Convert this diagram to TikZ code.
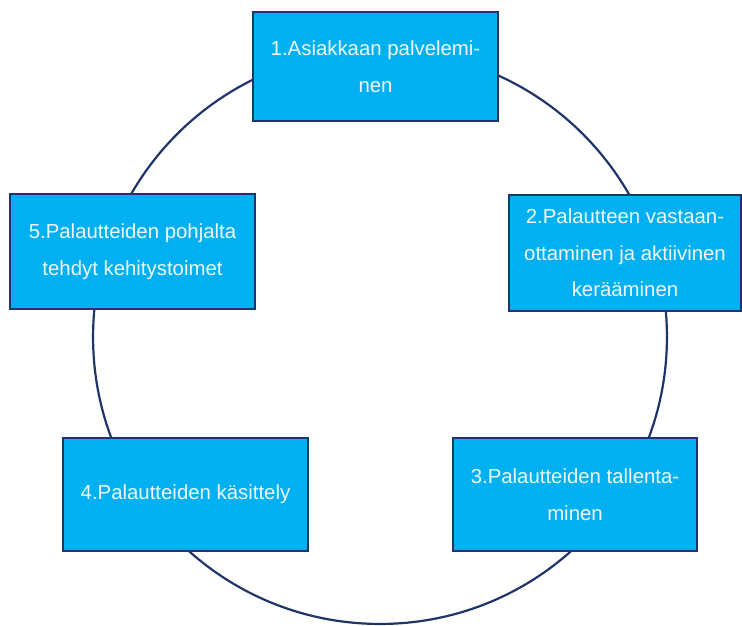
\documentclass[tikz,border=0pt]{standalone}
\usepackage{fontspec}
\setmainfont{Liberation Sans}
\usetikzlibrary{positioning}
\definecolor{kbox}{HTML}{00B0F0}
\definecolor{knavy}{HTML}{1F3468}
\definecolor{ktext}{HTML}{EEF9FF}
\tikzset{
  vaihe/.style ={draw=knavy, fill=kbox, line width=1.3pt, inner sep=2pt,
                 align=center, text=ktext, font=\fontsize{11.6}{20.8}\selectfont},
  kehys/.style ={draw=knavy, line width=1.25pt},
}
\begin{document}
\begin{tikzpicture}[x=0.02cm, y=-0.02cm]
    \useasboundingbox (0,0) rectangle (742,625);
    % feedback cycle
    \draw[kehys] (380,337) circle (5.74cm);
    % phases
    \node[vaihe, minimum width=4.9cm, minimum height=2.18cm] (k1) at (375.5,66.5)
        {1.Asiakkaan palvelemi-\\nen};
    \node[vaihe, minimum width=4.64cm, minimum height=2.32cm] (k2) at (625,253)
        {2.Palautteen vastaan-\\ottaminen ja aktiivinen\\kerääminen};
    \node[vaihe, minimum width=4.88cm, minimum height=2.26cm] (k3) at (575,494.5)
        {3.Palautteiden tallenta-\\minen};
    \node[vaihe, minimum width=4.9cm, minimum height=2.26cm] (k4) at (185.5,494.5)
        {4.Palautteiden käsittely};
    \node[vaihe, minimum width=4.9cm, minimum height=2.3cm] (k5) at (132.5,251.5)
        {5.Palautteiden pohjalta\\tehdyt kehitystoimet};
\end{tikzpicture}
\end{document}
